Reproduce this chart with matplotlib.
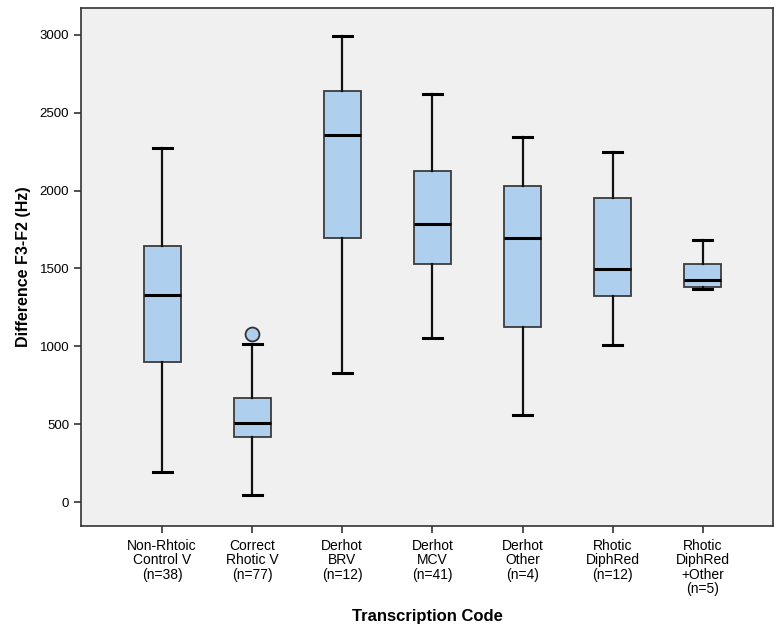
import matplotlib
matplotlib.use("Agg")
import matplotlib.pyplot as plt

plt.rcParams['font.family'] = ['Liberation Sans', 'DejaVu Sans']

# category labels and box statistics
labels = ["Non-Rhtoic\nControl V\n(n=38)", "Correct\nRhotic V\n(n=77)", "Derhot\nBRV\n(n=12)",
          "Derhot\nMCV\n(n=41)", "Derhot\nOther\n(n=4)", "Rhotic\nDiphRed\n(n=12)",
          "Rhotic\nDiphRed\n+Other\n(n=5)"]
whislo = [190, 48, 830, 1055, 562, 1008, 1368]
q1 = [900, 418, 1693, 1530, 1124, 1322, 1383]
med = [1328, 510, 2360, 1788, 1694, 1497, 1424]
q3 = [1646, 670, 2638, 2124, 2028, 1955, 1530]
whishi = [2274, 1015, 2996, 2620, 2346, 2248, 1680]
outliers = [[], [1077], [], [], [], [], []]

stats = []
for i in range(len(labels)):
    stats.append(dict(whislo=whislo[i], q1=q1[i], med=med[i], q3=q3[i],
                      whishi=whishi[i], fliers=outliers[i], label=labels[i]))

fig = plt.figure(figsize=(7.74, 6.26), dpi=100)
ax = fig.add_axes([81 / 774, 1 - 526 / 626, 692 / 774, 518 / 626])
ax.set_facecolor("#f0f0f0")

ax.bxp(stats, widths=0.41, patch_artist=True, showcaps=True,
       boxprops=dict(facecolor="#aed0ee", edgecolor="#3c3c3c", linewidth=1.3),
       medianprops=dict(color="black", linewidth=2.2),
       whiskerprops=dict(color="#111111", linewidth=1.6),
       capprops=dict(color="black", linewidth=2.2),
       capwidths=0.21,
       flierprops=dict(marker="o", markersize=10, markerfacecolor="#aed0ee",
                       markeredgecolor="#333333", markeredgewidth=1.3))

ax.set_xlim(0.1, 7.78)
ax.set_ylim(-154, 3173)
ax.set_yticks([0, 500, 1000, 1500, 2000, 2500, 3000])

for side in ["left", "bottom", "top", "right"]:
    ax.spines[side].set_color("#333333")
    ax.spines[side].set_linewidth(1.2)
ax.tick_params(axis="both", colors="#333333", labelcolor="black",
               length=5, width=1.2)
ax.tick_params(axis="y", labelsize=9.5)
ax.tick_params(axis="x", labelsize=10, pad=4)
for t in ax.get_xticklabels():
    t.set_linespacing(1.05)
    t.set_verticalalignment("top")

ax.set_ylabel("Difference F3-F2 (Hz)", fontsize=11.5, fontweight="bold", labelpad=6)
ax.set_xlabel("Transcription Code", fontsize=12, fontweight="bold", labelpad=9)

fig.savefig("out.png", dpi=100)
